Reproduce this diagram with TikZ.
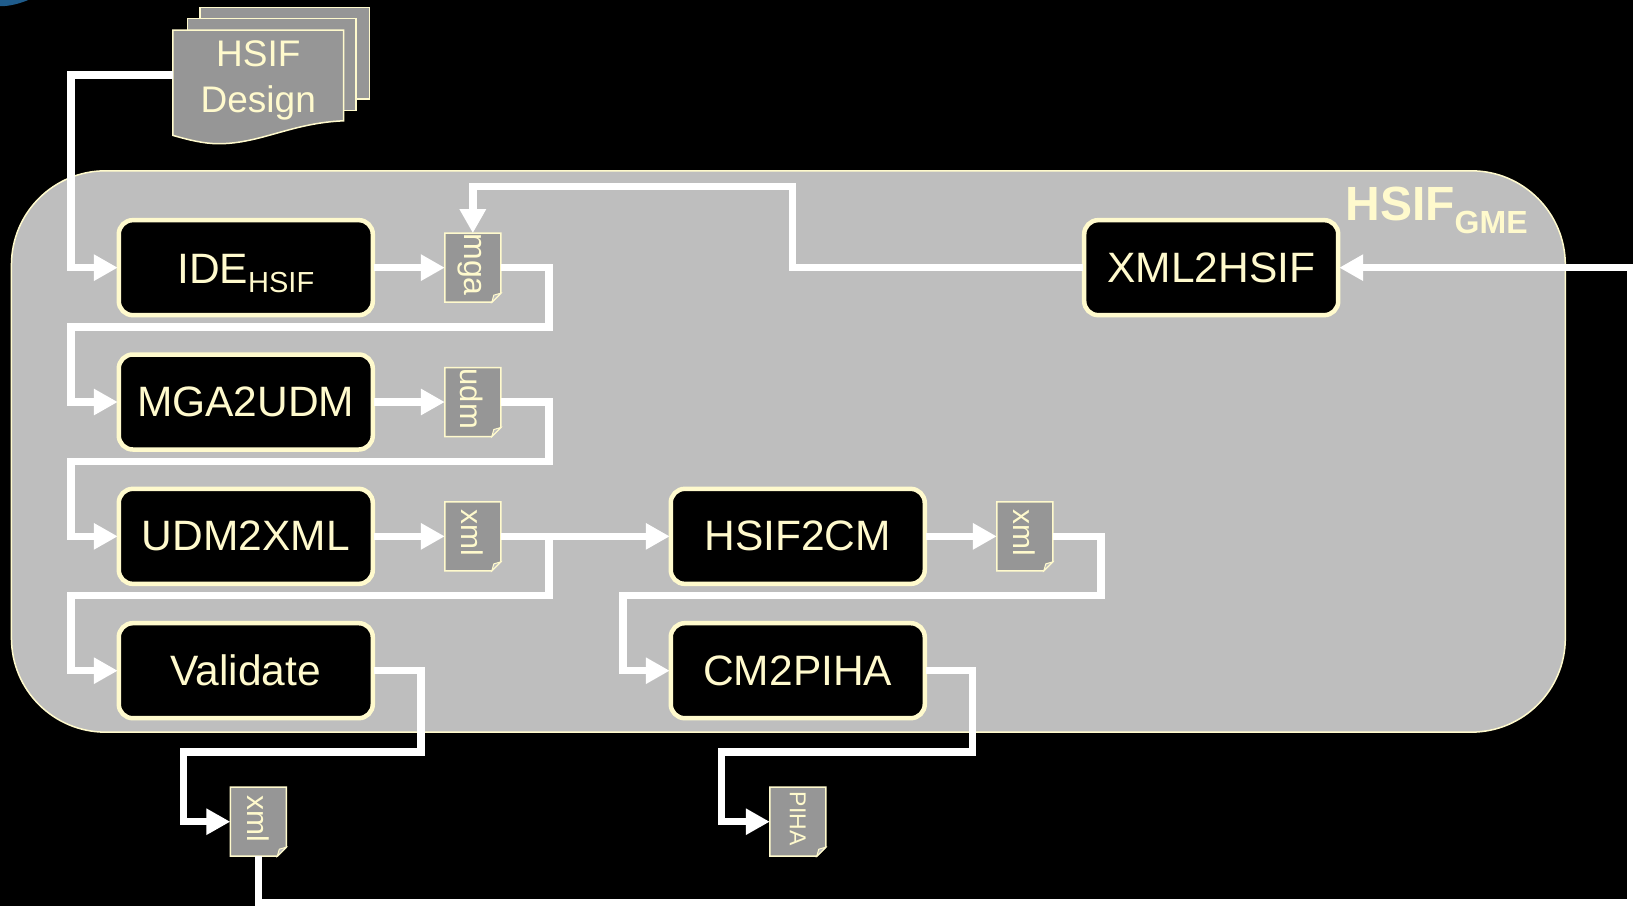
\documentclass[tikz,border=0pt]{standalone}
\usepackage{fontspec}
\setmainfont{Liberation Sans}
\usetikzlibrary{arrows.meta}
\definecolor{cream}{HTML}{FFFACD}
\definecolor{panelgray}{HTML}{BEBEBE}
\definecolor{filegray}{HTML}{969696}
\definecolor{globeblue}{HTML}{1F5C8C}
\newcommand{\fsz}[1]{\fontsize{#1}{#1}\selectfont}
\tikzset{
  x=1.04145pt,y=-1.04145pt,
  panel/.style={draw=cream,fill=panelgray,line width=1.5pt,rounded corners=94pt},
  toolbox/.style={draw=cream,fill=black,line width=4.5pt,rounded corners=14pt,minimum width=254pt,minimum height=95pt,inner sep=0pt,outer sep=1pt,text=cream,font=\fsz{42.5}},
  filebox/.style={minimum width=56pt,minimum height=69pt,inner sep=0pt,outer sep=0pt},
  filepage/.style={draw=cream,fill=filegray,line width=1.5pt},
  filetext/.style={rotate=-90,text=cream,inner sep=0pt},
  conn/.style={draw=white,line width=7.5pt,line join=miter},
  arr/.style={conn,-{Triangle[length=24pt,width=25pt]}},
  sheet/.style={draw=cream,fill=filegray,line width=1.5pt},
}
\newcommand{\filedoc}[6]{%
  \node[filebox] (#1) at (#2,#3) {};
  \draw[filepage] (#1.north west) -- (#1.north east) -- ([yshift=9pt]#1.south east) -- ([xshift=-9pt]#1.south east) -- (#1.south west) -- cycle;
  \draw[draw=cream,fill=panelgray,line width=1pt] ([yshift=9pt]#1.south east) -- ([xshift=-9pt]#1.south east) -- ([xshift=-7pt,yshift=7pt]#1.south east) -- cycle;
  \node[filetext,font=\fsz{#5}] (#1-label) at (#2+#6,#3-3) {#4};
}
\begin{document}
\begin{tikzpicture}
\useasboundingbox (0,0) rectangle (1568,870);
\fill[black] (0,0) rectangle (1568,870);
\fill[globeblue] (0,0) -- (0,6) .. controls (10,6) and (20,3) .. (27,0) -- cycle;
% panel
\path[panel] (11,164) rectangle (1503,703);
% design sheets
\draw[sheet] (192,7) rectangle (355,95);
\draw[sheet] (180,18) rectangle (342,106);
\draw[sheet] (166,29) -- (330,29) -- (330,116) .. controls (280,118) and (250,138) .. (210,138) .. controls (195,138) and (180,134) .. (166,130) -- cycle;
\node[minimum width=171pt,minimum height=100pt,inner sep=0pt,outer sep=0pt] (design) at (248,72) {};
\node[text=cream,font=\fsz{37},align=center,inner sep=0pt] (designlabel) at (248,77) {HSIF\\[9pt]Design};
% title
\node[text=cream,font=\bfseries,inner sep=0pt,anchor=base east] (title) at (1467,212) {\fsz{48}HSIF\raisebox{-13pt}[0pt][0pt]{\fsz{32}GME}};
% tools
\node[toolbox] (ide) at (236,257) {\raisebox{-16pt}[0pt][0pt]{IDE\raisebox{-9pt}[0pt][0pt]{\fsz{29}HSIF}}};
\node[toolbox] (mga2udm) at (236,386) {MGA2UDM};
\node[toolbox] (udm2xml) at (236,515) {UDM2XML};
\node[toolbox] (validate) at (236,644) {Validate};
\node[toolbox] (hsif2cm) at (766,515) {HSIF2CM};
\node[toolbox] (cm2piha) at (766,644) {CM2PIHA};
\node[toolbox] (xml2hsif) at (1163,257) {XML2HSIF};
% files
\filedoc{mga}{454}{257}{mga}{32}{-3}
\filedoc{udm}{454}{386}{udm}{31}{-1}
\filedoc{xmla}{454}{515}{xml}{30}{0}
\filedoc{xmlb}{984}{515}{xml}{30}{0}
\filedoc{xmlc}{248}{789}{xml}{30}{0}
\filedoc{piha}{766}{789}{PIHA}{23}{0}
% connectors
\draw[arr] (design.west) -- (68,72) -- (68,257) -- (ide.west);
\draw[arr] (ide.east) -- (mga.west);
\draw[arr] (mga.east) -- (527,257) -- (527,314) -- (68,314) -- (68,386) -- (mga2udm.west);
\draw[arr] (mga2udm.east) -- (udm.west);
\draw[arr] (udm.east) -- (527,386) -- (527,443) -- (68,443) -- (68,515) -- (udm2xml.west);
\draw[arr] (udm2xml.east) -- (xmla.west);
\draw[arr] (xmla.east) -- (hsif2cm.west);
\draw[arr] (527,515) -- (527,572) -- (68,572) -- (68,644) -- (validate.west);
\draw[arr] (hsif2cm.east) -- (xmlb.west);
\draw[arr] (xmlb.east) -- (1057,515) -- (1057,572) -- (598,572) -- (598,644) -- (cm2piha.west);
\draw[arr] (validate.east) -- (404,644) -- (404,722) -- (176,722) -- (176,789) -- (xmlc.west);
\draw[arr] (cm2piha.east) -- (934,644) -- (934,722) -- (693,722) -- (693,789) -- (piha.west);
\draw[arr] (xmlc.south) -- (248,867) -- (1566,867) -- (1566,257) -- (xml2hsif.east);
\draw[arr] (xml2hsif.west) -- (761,257) -- (761,179) -- (454,179) -- (mga.north);
\end{tikzpicture}
\end{document}
